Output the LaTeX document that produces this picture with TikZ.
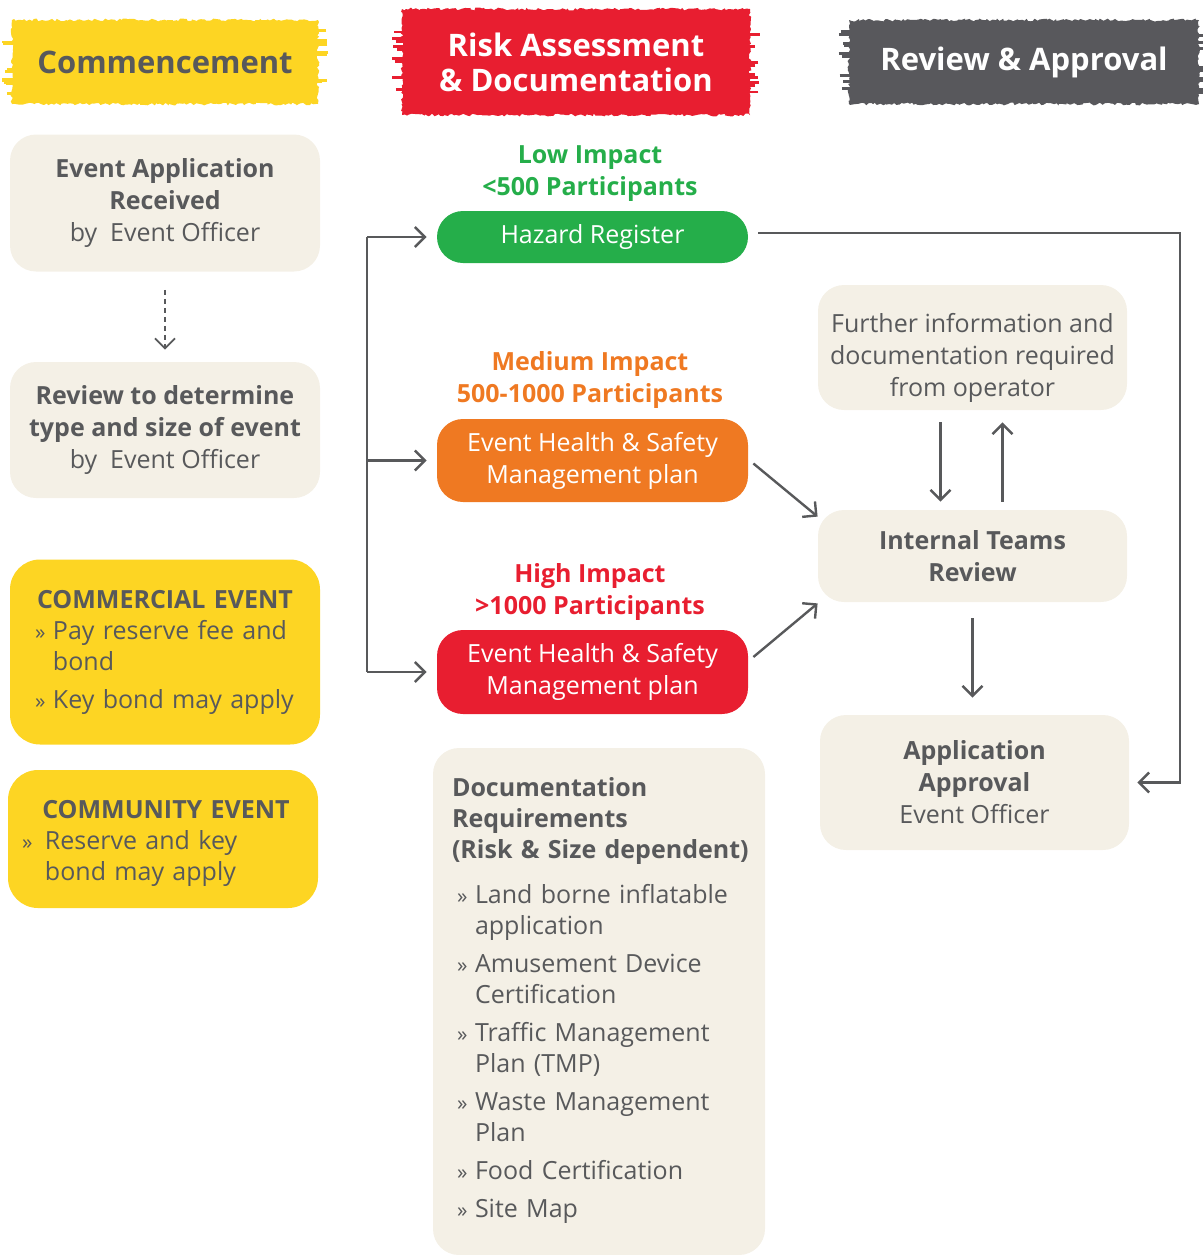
\documentclass[tikz,border=0pt]{standalone}
\usepackage{fontspec}
\setmainfont{Open Sans}
\usetikzlibrary{arrows.meta,decorations.pathmorphing}

\definecolor{textgray}{HTML}{58595B}
\definecolor{boxbeige}{HTML}{F4F0E6}
\definecolor{brushyellow}{HTML}{FDD523}
\definecolor{brushred}{HTML}{E81E30}
\definecolor{brushgray}{HTML}{58585C}
\definecolor{lowgreen}{HTML}{25AE4A}
\definecolor{medorange}{HTML}{EF7922}

\newcommand{\bodysize}{\fontsize{12.5}{16}\selectfont}
\newcommand{\listsize}{\fontsize{12.5}{15.5}\selectfont}
\newcommand{\headsize}{\fontsize{15.5}{17.5}\selectfont\bfseries}
\newcommand{\bitem}[2][9pt]{\par\noindent\hangindent=#1\hangafter=1\makebox[#1][l]{\fontsize{10.5}{10}\selectfont»}#2\par}
\newcommand{\ditem}[1]{\par\vspace{3.5pt}\noindent\hangindent=11.5pt\hangafter=1\makebox[11.5pt][l]{\hspace{2.5pt}\fontsize{10.5}{10}\selectfont»}#1\par}

\pgfmathsetseed{11}

\begin{document}
\begin{tikzpicture}[x=0.5pt,y=-0.5pt,
  every node/.style={text=textgray, font=\bodysize},
  softbox/.style={fill=boxbeige, rounded corners=13pt, minimum width=155pt, align=center, inner sep=0pt},
  impactbox/.style={rounded corners=13pt, minimum width=155.5pt, text=white, align=center, inner sep=0pt},
  eventbox/.style={fill=brushyellow, rounded corners=15pt, minimum width=155pt, align=left, inner ysep=0pt, font=\listsize},
  brush/.style={decorate, decoration={random steps, segment length=1.2pt, amplitude=0.7pt}, inner sep=0pt, align=center, font=\headsize},
  impactlabel/.style={font=\bodysize\bfseries, align=center},
  arr/.style={draw=textgray, line width=1.2pt, -{Straight Barb[length=5pt,width=10pt]}},
  link/.style={draw=textgray, line width=1.2pt}
]
\useasboundingbox (0,0) rectangle (1203,1255);

\node[brush, fill=brushyellow, minimum width=153pt, minimum height=42pt] (commence) at (165,62) {Commencement};
\node[brush, fill=brushred, text=white, minimum width=174pt, minimum height=53pt] (riskhead) at (576,62) {Risk Assessment\\\& Documentation};
\node[brush, fill=brushgray, text=white, minimum width=175pt, minimum height=42pt] (reviewhead) at (1024,62) {Review \& Approval};
\foreach \h/\c in {commence/brushyellow,riskhead/brushred,reviewhead/brushgray}{
  \foreach \k in {1,...,9}{
    \pgfmathsetmacro{\yy}{rand*0.85}
    \pgfmathsetmacro{\ll}{2+3*rnd}
    \pgfmathsetmacro{\rr}{2+3*rnd}
    \draw[\c, line width=1.4pt] ([xshift=-\ll pt, yshift=\yy*19pt]\h.west) -- ++(\ll pt+4pt,0);
    \draw[\c, line width=1.4pt] ([xshift=\rr pt, yshift=-\yy*19pt]\h.east) -- ++(-\rr pt-4pt,0);
  }
}

\node[softbox, minimum height=68.5pt] (received) at (165,203) {\textbf{Event Application}\\\textbf{Received}\\by~~Event Officer};
\node[softbox, minimum height=68pt] (determine) at (165,430) {\textbf{Review to determine}\\\textbf{type and size of event}\\by~~Event Officer};
\node[eventbox, minimum height=92.5pt, text width=130pt, inner xsep=12.5pt] (commercial) at (165,652) {{\centering\bfseries COMMERCIAL EVENT\par}\bitem{Pay reserve fee and\newline bond}\vspace{3.5pt}\bitem{Key bond may apply}};
\node[eventbox, minimum height=69pt, text width=141pt, inner xsep=7pt] (community) at (163,839) {{\centering\bfseries\rule{0pt}{13pt}\hspace{3pt}COMMUNITY EVENT\par}\bitem[11.5pt]{Reserve and key\newline bond may apply}};

\node[impactlabel, text=lowgreen] (lowlabel) at (590,174) {Low Impact\\<500 Participants};
\node[impactbox, fill=lowgreen, minimum height=26pt] (hazard) at (592.5,237) {Hazard Register};
\node[impactlabel, text=medorange] (medlabel) at (590,380) {Medium Impact\\500-1000 Participants};
\node[impactbox, fill=medorange, minimum height=41.5pt] (medbox) at (592.5,460.5) {Event Health \& Safety\\Management plan};
\node[impactlabel, text=brushred] (highlabel) at (590,592) {High Impact\\>1000 Participants};
\node[impactbox, fill=brushred, minimum height=42pt] (highbox) at (592.5,672) {Event Health \& Safety\\Management plan};

\node[softbox, minimum width=166pt, minimum height=253.5pt] (docs) at (599,1001.5) {};
\node[anchor=north west, text width=152pt, align=left, inner sep=0pt, font=\listsize] (doctext) at ([xshift=9.5pt,yshift=-14.5pt]docs.north west) {\textbf{Documentation}\newline\textbf{Requirements}\newline\textbf{(Risk \& Size dependent)}\par\vspace{3.5pt}%
\ditem{Land borne inflatable\newline application}\ditem{Amusement Device\newline Certification}\ditem{Traffic Management\newline Plan (TMP)}\ditem{Waste Management\newline Plan}\ditem{Food Certification}\ditem{Site Map}};

\node[softbox, minimum width=154.5pt, minimum height=62.5pt] (further) at (972.5,347.5) {\rule{0pt}{20pt}Further information and\\documentation required\\from operator};
\node[softbox, minimum width=154.5pt, minimum height=46pt] (review) at (972.5,556) {\textbf{Internal Teams}\\\textbf{Review}};
\node[softbox, minimum width=154.5pt, minimum height=67.5pt] (approval) at (974.5,782.5) {\textbf{Application}\\\textbf{Approval}\\Event Officer};

\coordinate (bus) at (367,456);
\coordinate (rail) at (1180,456);

\draw[arr, line width=0.9pt, dash pattern=on 2.5pt off 2pt, shorten <=9pt, shorten >=6pt] (received.south) -- (determine.north);
\draw[link] (hazard.west -| bus) -- (highbox.west -| bus);
\foreach \n in {hazard,medbox,highbox}
  \draw[arr, shorten >=5pt] (\n.west -| bus) -- (\n.west);
\draw[arr, shorten <=5pt, shorten >=4pt] ([yshift=2pt]hazard.east) -- ([yshift=2pt]hazard.east -| rail) |- (approval.east);
\draw[arr] ([xshift=2.5pt,yshift=-1.5pt]medbox.east) -- ([yshift=-3.5pt]review.north west);
\draw[arr] ([xshift=2.5pt,yshift=7.5pt]highbox.east) -- ([yshift=-0.5pt]review.south west);
\draw[arr, shorten <=6pt, shorten >=4pt] ([xshift=-16pt]further.south) -- ([xshift=-16pt]further.south |- review.north);
\draw[arr, shorten <=4pt, shorten >=6pt] ([xshift=15pt]review.north) -- ([xshift=15pt]review.north |- further.south);
\draw[arr, shorten <=8pt, shorten >=8.5pt] (review.south) -- (review.south |- approval.north);
\end{tikzpicture}
\end{document}
